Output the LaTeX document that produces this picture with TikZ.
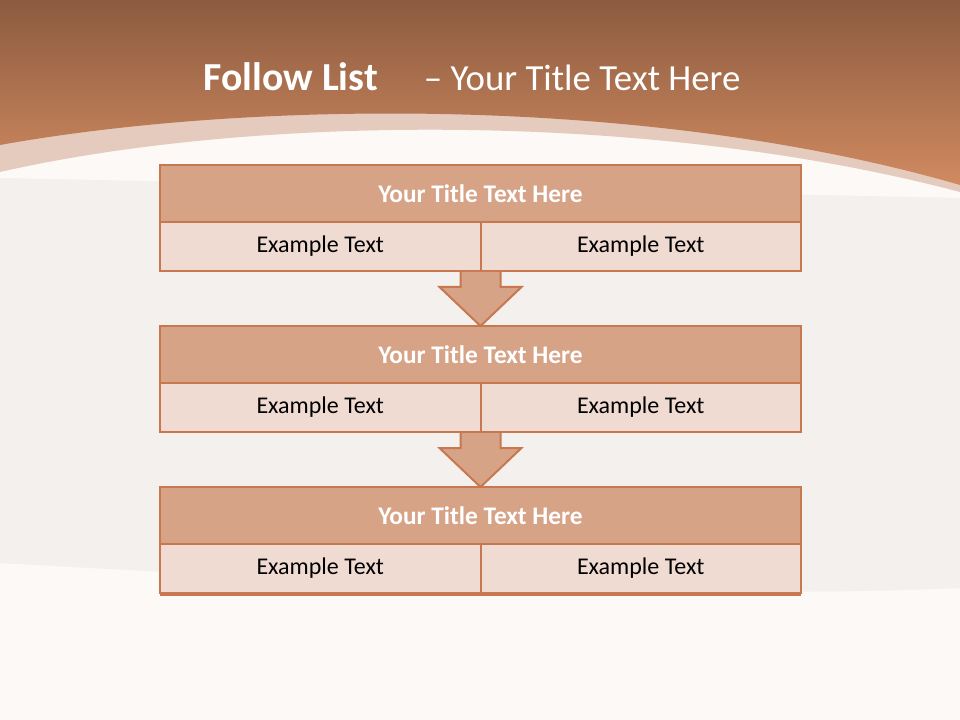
\documentclass[tikz,border=0pt]{standalone}
\usepackage{fontspec}
\setmainfont{Carlito}
\usetikzlibrary{calc}

\definecolor{edgebrown}{HTML}{C8784F}
\definecolor{titlefill}{HTML}{D6A387}
\definecolor{cellfill}{HTML}{EFDBD2}
\definecolor{pagelight}{HTML}{FCF9F6}
\definecolor{pagegrey}{HTML}{F3F0ED}
\definecolor{bandpink}{HTML}{E5CBBD}
\definecolor{topbrown}{HTML}{8C5B40}
\definecolor{lowbrown}{HTML}{D08A60}

\tikzset{
  titlecell/.style={draw=edgebrown, line width=1.5pt, fill=titlefill, inner sep=0pt, outer sep=0pt,
    minimum width=480.75pt, minimum height=42.75pt, text=white,
    font=\fontsize{19}{21}\selectfont\bfseries},
  textcell/.style={draw=edgebrown, line width=1.5pt, fill=cellfill, inner sep=0pt, outer sep=0pt,
    minimum width=240.375pt, minimum height=36.75pt, text=black,
    font=\fontsize{18}{20}\selectfont},
  downarrow/.style={draw=edgebrown, line width=1.5pt, fill=titlefill, line join=miter}
}

\begin{document}
\begin{tikzpicture}[x=0.75pt, y=-0.75pt]
    \useasboundingbox (0,0) rectangle (960,720);
    % page background
    \fill[pagelight] (0,0) rectangle (960,720);
    \fill[pagegrey] (0,178) -- (960,198) -- (960,588) .. controls (700,600) and (300,580) .. (0,563) -- cycle;
    % header band and brown header
    \fill[bandpink] (0,0) -- (960,0) -- (960,192) .. controls (650,110) and (250,115) .. (0,172) -- cycle;
    \shade[top color=topbrown, bottom color=lowbrown] (0,0) -- (960,0) -- (960,185) .. controls (650,95) and (250,100) .. (0,145) -- cycle;
    % heading
    \node[text=white, font=\fontsize{27.6}{32}\selectfont] (heading) at (472,77)
        {{\fontsize{29.8}{32}\selectfont\bfseries Follow List}\hspace{1.25em}– Your Title Text Here};
    % list boxes
    \foreach \i/\top in {1/165, 2/326, 3/487} {
        \node[titlecell, anchor=north west] (t\i) at (160,\top) {Your Title Text Here};
        \node[textcell, anchor=north west] (l\i) at (t\i.south west) {Example Text};
        \node[textcell, anchor=north east] (r\i) at (t\i.south east) {Example Text};
    }
    \draw[edgebrown, line width=1.5pt] ($(l3.south west)+(0,2)$) -- ($(r3.south east)+(0,2)$);
    % arrows between boxes
    \foreach \a/\b in {1/2, 2/3} {
        \draw[downarrow] ($(l\a.south east)+(-20,1)$) -- ($(l\a.south east)+(-20,16)$)
            -- ($(l\a.south east)+(-41,16)$) -- (t\b.north) -- ($(l\a.south east)+(41,16)$)
            -- ($(l\a.south east)+(20,16)$) -- ($(l\a.south east)+(20,1)$);
    }
\end{tikzpicture}
\end{document}
